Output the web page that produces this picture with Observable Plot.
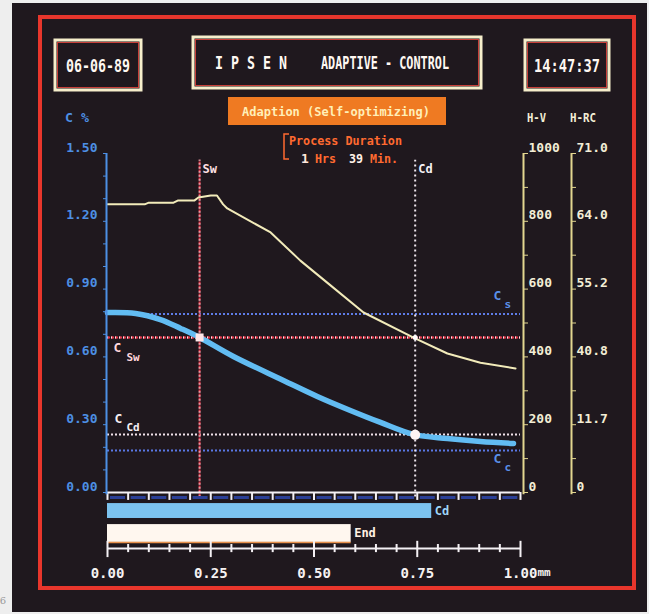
<!DOCTYPE html>
<html>
<head>
<meta charset="utf-8">
<script src="https://cdn.jsdelivr.net/npm/d3@7"></script>
<script src="https://cdn.jsdelivr.net/npm/@observablehq/plot@0.6"></script>
<style>
html, body { margin: 0; padding: 0; background: #eeeeee; }
#chart { position: relative; width: 649px; height: 614px; }
#chart svg { display: block; }
</style>
</head>
<body>
<div id="chart"></div>
<script>
// ---------- data ----------
// carbon profile (C %) vs depth (mm)
const carbonDepth = [0, 0.068, 0.128, 0.177, 0.223, 0.305, 0.426, 0.508, 0.588, 0.661, 0.741, 0.823, 0.903, 0.983];
const carbonPct   = [0.796, 0.792, 0.765, 0.726, 0.686, 0.602, 0.496, 0.425, 0.363, 0.310, 0.257, 0.239, 0.226, 0.217];
// hardness profile (H-V) vs depth (mm)
const hardDepth = [0, 0.09, 0.10, 0.16, 0.17, 0.21, 0.22, 0.25, 0.265, 0.28, 0.29, 0.395, 0.467, 0.54, 0.62, 0.741, 0.823, 0.903, 0.988];
const hardHV    = [850, 850, 855, 855, 861, 861, 870, 876, 876, 850, 838, 767, 684, 611, 531, 457, 410, 383, 366];
// reference carbon levels
const levelNames = ["Cs", "CSw", "CCd", "Cc"];
const levelPct   = [0.79, 0.686, 0.257, 0.186];
// depth markers
const depthNames = ["Sw", "Cd"];
const depthMm    = [0.223, 0.745];
// depth bars
const barNames = ["Cd", "End"];
const barDepth = [0.785, 0.59];
// ticks
const cTickValues   = [0, 0.3, 0.6, 0.9, 1.2, 1.5];
const hvTickValues  = [0, 200, 400, 600, 800, 1000];
const hrcTickLabels = ["0", "11.7", "40.8", "55.2", "64.0", "71.0"];
const xTickValues   = [0, 0.25, 0.5, 0.75, 1];
const xTickLabels   = ["0.00", "0.25", "0.50", "0.75", "1.00"];
// header texts
const headerDate  = "06-06-89";
const headerBrand = "I P S E N";
const headerTitle = "ADAPTIVE - CONTROL";
const headerTime  = "14:47:37";
const modeLabel   = "Adaption (Self-optimizing)";
const durationTitle = "Process Duration";
const durationHrs = "1";
const durationMin = "39";

// ---------- derived tables ----------
const HV2C = 1.5 / 1000;
const FONT = "DejaVu Sans Mono, monospace";
const carbon = carbonDepth.map((x, i) => ({x, c: carbonPct[i]}));
const hard = hardDepth.map((x, i) => ({x, hv: hardHV[i]}));
const levels = levelNames.map((name, i) => ({name, c: levelPct[i]}));
const lv = Object.fromEntries(levels.map(d => [d.name, d]));
const depths = depthNames.map((name, i) => ({name, x: depthMm[i]}));
const dp = Object.fromEntries(depths.map(d => [d.name, d]));
const bars = barNames.map((name, i) => ({name, x: barDepth[i]}));
const rulerTicks = d3.range(0, 21).map(i => i / 20);
const minorC = d3.range(0, 16).map(i => i / 10);
const minorHV = d3.range(0, 11).map(i => i * 100 * HV2C);

// lanes below the carbon axis (C % units, extrapolated)
const LANE = {cdTop: -0.049, cdBot: -0.115, endTop: -0.142, endBot: -0.221, ruler: -0.248};

const BLUE = "#4d8fe4", CREAM = "#f3eed6", YAXIS = "#e2d690";
const levelColor = {Cs: "#5f7de8", CSw: "#e2384a", CCd: "#f1e2ea", Cc: "#5a78e6"};

const txt = (extra) => Object.assign({fontFamily: FONT, fontWeight: "bold", fontSize: 13}, extra);

const svg = Plot.plot({
  width: 649, height: 614,
  marginLeft: 107, marginRight: 129, marginTop: 153, marginBottom: 122,
  x: {domain: [0, 1]},
  y: {domain: [0, 1.5]},
  color: {type: "identity"},
  style: {background: "transparent", fontFamily: FONT, overflow: "visible"},
  marks: [
    // reference levels
    Plot.ruleY(levels, {y: "c", x1: 0, x2: 1, stroke: d => levelColor[d.name], strokeWidth: 2, strokeDasharray: "2,2"}),
    Plot.ruleY([lv.CSw], {y: "c", x1: 0, x2: 1, stroke: "#e2384a", strokeWidth: 2, strokeDasharray: "3,1"}),
    Plot.ruleY([lv.CSw], {y: "c", x1: 0, x2: 1, stroke: "#ffe8ec", strokeWidth: 2, strokeDasharray: "1,3"}),
    // depth markers
    Plot.ruleX([dp.Sw], {x: "x", y1: -0.02, y2: 1.47, stroke: "#e23a4c", strokeWidth: 2, strokeDasharray: "3,1"}),
    Plot.ruleX([dp.Sw], {x: "x", y1: -0.02, y2: 1.47, stroke: "#ffe8ec", strokeWidth: 2, strokeDasharray: "1,3"}),
    Plot.ruleX([dp.Cd], {x: "x", y1: -0.02, y2: 1.47, stroke: "#eee6ee", strokeWidth: 2, strokeDasharray: "2,3"}),
    // bottom depth bars
    Plot.rect(bars, {x1: 0, x2: "x",
      y1: d => d.name === "Cd" ? LANE.cdTop : LANE.endTop,
      y2: d => d.name === "Cd" ? LANE.cdBot : LANE.endBot,
      fill: d => d.name === "Cd" ? "#7cc3ef" : "#fff7ef"}),
    Plot.ruleY(bars.filter(d => d.name === "End"), {y: () => LANE.endBot, x1: 0, x2: "x", stroke: "#e8904a", strokeWidth: 1.5}),
    Plot.text(bars, {x: "x", y: d => d.name === "Cd" ? (LANE.cdTop + LANE.cdBot) / 2 : (LANE.endTop + LANE.endBot) / 2,
      text: "name", dx: 3, textAnchor: "start", fill: d => d.name === "Cd" ? "#9ed6f8" : "#fff1e2", fontFamily: FONT, fontWeight: "bold", fontSize: 12}),
    // top ruler (depth axis line)
    Plot.ruleY([-0.022], {x1: 0, x2: 1, stroke: "#2b3f96", strokeWidth: 3, strokeDasharray: "0,3,15,2.65"}),
    Plot.ruleY([0], {x1: 0, x2: 1, stroke: "#f4f0f4", strokeWidth: 2}),
    Plot.ruleX(rulerTicks, {x: d => d, y1: 0, y2: -0.035, stroke: "#f4f0f4", strokeWidth: 2}),
    // bottom ruler
    Plot.ruleY([LANE.ruler], {x1: 0, x2: 1, stroke: "#f4f0f4", strokeWidth: 2}),
    Plot.ruleX(rulerTicks, {x: d => d, y1: d => xTickValues.includes(d) ? LANE.ruler + 0.032 : LANE.ruler + 0.018,
      y2: d => xTickValues.includes(d) ? LANE.ruler - 0.04 : LANE.ruler - 0.018, stroke: "#f4f0f4", strokeWidth: 2}),
    // hardness curve (plotted against the H-V scale)
    Plot.line(hard, {x: "x", y: d => d.hv * HV2C, stroke: "#f2ebba", strokeWidth: 2}),
    // carbon curve
    Plot.line(carbon, {x: "x", y: "c", stroke: "#62bcf2", strokeWidth: 5.5, curve: "catmull-rom"}),
    // intersection markers
    Plot.dot([{x: dp.Sw.x, c: lv.CSw.c}], {x: "x", y: "c", symbol: "square", r: 4.5, fill: "#ffe6e8", stroke: "none"}),
    Plot.dot([{x: dp.Cd.x, c: 0.255}], {x: "x", y: "c", r: 5, fill: "#fff4f4", stroke: "none"}),
    Plot.dot([{x: dp.Cd.x, c: lv.CSw.c}], {x: "x", y: "c", r: 2.5, fill: "#ffffff", stroke: "none"}),
    // left C % axis
    Plot.ruleX([0], {y1: -0.01, y2: 1.5, stroke: BLUE, strokeWidth: 2, dx: -1}),
    Plot.axisY(minorC, {anchor: "left", tickSize: 4, tickFormat: () => "", color: BLUE, label: null}),
    Plot.axisY(cTickValues, {anchor: "left", tickSize: 0, tickPadding: 10, dy: -6, label: null,
      tickFormat: d => d.toFixed(2), color: BLUE, fontSize: 13, fontWeight: "bold", fontFamily: FONT}),
    // right H-V axis
    Plot.ruleX([1], {y1: -0.01, y2: 1.5, stroke: YAXIS, strokeWidth: 2, dx: 3}),
    Plot.axisY(minorHV, {anchor: "right", dx: 3, tickSize: 4, tickFormat: () => "", color: YAXIS, label: null}),
    Plot.axisY(hvTickValues.map(v => v * HV2C), {anchor: "right", dx: 3, tickSize: 0, tickPadding: 5, dy: -6, label: null,
      tickFormat: d => String(Math.round(d / HV2C)), color: CREAM, fontSize: 13, fontWeight: "bold", fontFamily: FONT}),
    // right H-RC axis
    Plot.ruleX([1], {y1: -0.01, y2: 1.5, stroke: YAXIS, strokeWidth: 2, dx: 51}),
    Plot.axisY(minorHV, {anchor: "right", dx: 51, tickSize: 4, tickFormat: () => "", color: YAXIS, label: null}),
    Plot.axisY(hvTickValues.map(v => v * HV2C), {anchor: "right", dx: 51, tickSize: 0, tickPadding: 5, dy: -6, label: null,
      tickFormat: d => hrcTickLabels[hvTickValues.indexOf(Math.round(d / HV2C))], color: CREAM, fontSize: 13, fontWeight: "bold", fontFamily: FONT}),
    // bottom depth labels
    Plot.axisX(xTickValues, {anchor: "bottom", tickSize: 0, tickPadding: 76, label: null,
      tickFormat: d => xTickLabels[xTickValues.indexOf(d)], color: "#f6f2f2", fontSize: 14, fontWeight: "bold", fontFamily: FONT}),
    Plot.text(["mm"], {x: () => 1, frameAnchor: "bottom", dy: 83, dx: 17, textAnchor: "start", fill: "#f6f2f2", fontFamily: FONT, fontWeight: "bold", fontSize: 11}),
    // depth marker labels
    Plot.text(depths, {x: "x", y: () => 1.43, text: "name", dx: 3, textAnchor: "start",
      fill: d => d.name === "Sw" ? "#ffe0e4" : "#f4f0f4", fontFamily: FONT, fontWeight: "bold", fontSize: 12}),
    // level labels
    Plot.text([lv.CSw], {x: () => 0, y: "c", text: () => "C", dx: 10, dy: 10, fill: "#ffd6dc", ...txt({})}),
    Plot.text([lv.CSw], {x: () => 0, y: "c", text: () => "Sw", dx: 19, dy: 20, textAnchor: "start", fill: "#ffd6dc", ...txt({fontSize: 11})}),
    Plot.text([lv.CCd], {x: () => 0, y: "c", text: () => "C", dx: 11, dy: -16, fill: "#f4eef2", ...txt({})}),
    Plot.text([lv.CCd], {x: () => 0, y: "c", text: () => "Cd", dx: 19, dy: -7, textAnchor: "start", fill: "#f4eef2", ...txt({fontSize: 11})}),
    Plot.text([lv.Cs], {x: () => 1, y: "c", text: () => "C", dx: -23, dy: -18, fill: "#5a8fe8", ...txt({})}),
    Plot.text([lv.Cs], {x: () => 1, y: "c", text: () => "s", dx: -16, dy: -9, textAnchor: "start", fill: "#5a8fe8", ...txt({fontSize: 11})}),
    Plot.text([lv.Cc], {x: () => 1, y: "c", text: () => "C", dx: -23, dy: 8, fill: "#5a8fe8", ...txt({})}),
    Plot.text([lv.Cc], {x: () => 1, y: "c", text: () => "c", dx: -16, dy: 17, textAnchor: "start", fill: "#5a8fe8", ...txt({fontSize: 11})})
  ]
});

// ---------- screen decoration (CRT frame, header boxes) ----------
const root = d3.select(svg);
const deco = root.insert("g", ":first-child");
deco.append("rect").attr("x", 0).attr("y", 0).attr("width", 649).attr("height", 614).attr("fill", "#eeeeee");
deco.append("rect").attr("x", 12).attr("y", 3).attr("width", 635).attr("height", 609).attr("fill", "#1f181e");
deco.append("text").attr("x", 3).attr("y", 604).attr("fill", "#9a9a9a").attr("font-size", 10).attr("font-family", "DejaVu Serif").text("6");
deco.append("rect").attr("x", 40).attr("y", 17).attr("width", 594).attr("height", 571)
  .attr("fill", "none").attr("stroke", "#e8362c").attr("stroke-width", 4);

const hdr = root.append("g").attr("font-family", FONT).attr("font-weight", "bold");
function box(x, y, w, h) {
  hdr.append("rect").attr("x", x).attr("y", y).attr("width", w).attr("height", h)
    .attr("fill", "none").attr("stroke", "#f6eecb").attr("stroke-width", 3);
  hdr.append("rect").attr("x", x + 2.5).attr("y", y + 2.5).attr("width", w - 5).attr("height", h - 5)
    .attr("fill", "none").attr("stroke", "#c8403a").attr("stroke-width", 1);
}
function label(x, y, s, opts) {
  const t = hdr.append("text").attr("x", x).attr("y", y).attr("dominant-baseline", "central")
    .attr("fill", opts.fill).attr("font-size", opts.size).attr("text-anchor", opts.anchor || "start").text(s);
  if (opts.len) t.attr("textLength", opts.len).attr("lengthAdjust", "spacingAndGlyphs");
  return t;
}
box(55, 40, 86, 50);
label(66, 66, headerDate, {fill: "#fff8f2", size: 17, len: 64});
box(193, 37, 288, 51);
label(215, 63, headerBrand, {fill: "#fff8f2", size: 17, len: 72});
label(321, 63, headerTitle, {fill: "#fff8f2", size: 17, len: 128});
box(525, 40, 84, 50);
label(534, 66, headerTime, {fill: "#fff8f2", size: 17, len: 66});

hdr.append("rect").attr("x", 228).attr("y", 97).attr("width", 218).attr("height", 28).attr("fill", "#ef7a22");
label(242, 111, modeLabel, {fill: "#ffefb8", size: 13, len: 188});

label(289, 140, durationTitle, {fill: "#ff6a30", size: 13, len: 113});
hdr.append("path").attr("d", "M289,134 H284 V159 H289").attr("fill", "none").attr("stroke", "#ff6a30").attr("stroke-width", 1.5);
label(301, 158, durationHrs, {fill: "#ffe6dc", size: 13});
label(315, 158, "Hrs", {fill: "#ff6a30", size: 13, len: 21});
label(349, 158, durationMin, {fill: "#fff0e8", size: 13, len: 14});
label(370, 158, "Min.", {fill: "#ff6a30", size: 13, len: 28});

label(65, 118, "C %", {fill: BLUE, size: 12, len: 24});
label(527, 118, "H-V", {fill: CREAM, size: 12, len: 19});
label(570, 118, "H-RC", {fill: CREAM, size: 12, len: 26});

document.getElementById("chart").appendChild(svg);
</script>
</body>
</html>
